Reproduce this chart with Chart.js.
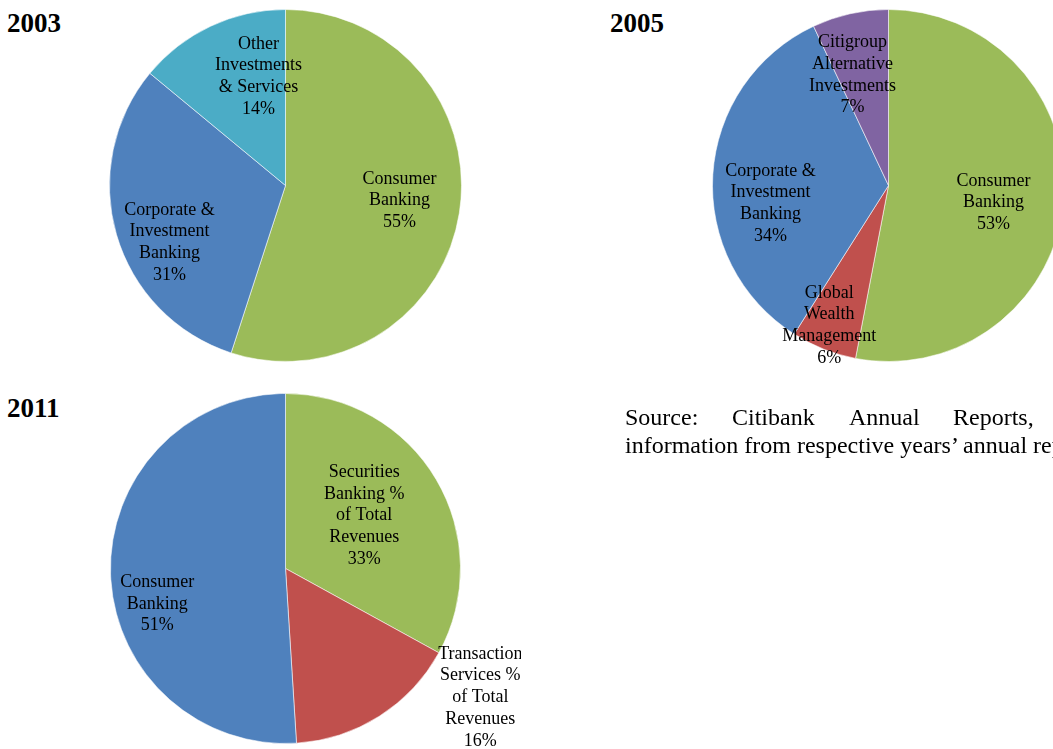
<!DOCTYPE html>
<html>
<head>
<meta charset="utf-8">
<script src="https://cdn.jsdelivr.net/npm/chart.js@4"></script>
<style>
    html, body { margin: 0; padding: 0; background: #fff; overflow: hidden; }
    body { width: 1053px; height: 749px; position: relative; font-family: "Liberation Serif", "Times New Roman", serif; color: #000; }
    canvas { position: absolute; }
    .year { position: absolute; font-size: 27px; font-weight: bold; line-height: 27px; }
    .src { position: absolute; font-size: 24px; line-height: 28px; white-space: nowrap; }
</style>
</head>
<body>
<div class="year" style="left:7px; top:10px;">2003</div>
<div class="year" style="left:610px; top:10px;">2005</div>
<div class="year" style="left:7px; top:395px;">2011</div>

<canvas id="pie2003"></canvas>
<canvas id="pie2005"></canvas>
<canvas id="pie2011"></canvas>

<div class="src" style="left:625px; top:403px;">Source:</div>
<div class="src" style="left:732px; top:403px;">Citibank</div>
<div class="src" style="left:849px; top:403px;">Annual</div>
<div class="src" style="left:953px; top:403px;">Reports,</div>
<div class="src" style="left:625px; top:431px;">information from respective years’ annual reports.</div>

<script>
const GREEN = '#9BBB59';
const BLUE = '#4F81BD';
const TEAL = '#4BACC6';
const RED = '#C0504D';
const PURPLE = '#8064A2';

// 2003 revenue split
const labels2003 = [
    ['Consumer', 'Banking'],
    ['Corporate &', 'Investment', 'Banking'],
    ['Other', 'Investments', '& Services']
];
const values2003 = [55, 31, 14];
const colors2003 = [GREEN, BLUE, TEAL];

// 2005 revenue split
const labels2005 = [
    ['Consumer', 'Banking'],
    ['Global', 'Wealth', 'Management'],
    ['Corporate &', 'Investment', 'Banking'],
    ['Citigroup', 'Alternative', 'Investments']
];
const values2005 = [53, 6, 34, 7];
const colors2005 = [GREEN, RED, BLUE, PURPLE];

// 2011 revenue split
const labels2011 = [
    ['Securities', 'Banking %', 'of Total', 'Revenues'],
    ['Transaction', 'Services %', 'of Total', 'Revenues'],
    ['Consumer', 'Banking']
];
const values2011 = [33, 16, 51];
const colors2011 = [GREEN, RED, BLUE];

// where each label sits: [fraction of radius, degrees turned from the slice middle]
const place2003 = [[0.653, -1.5], [0.734, -10], [0.638, 11.3]];
const place2005 = [[0.605, 3.8], [0.864, 1.3], [0.678, -12.3], [0.66, -5.5]];
const place2011 = [[0.542, -3.3], [1.335, -24.1], [0.76, -13.6]];

// Draws "name / value%" text blocks on each slice
const sliceLabels = {
    id: 'sliceLabels',
    afterDatasetsDraw(chart, args, opts) {
        const ctx = chart.ctx;
        const meta = chart.getDatasetMeta(0);
        const values = chart.data.datasets[0].data;
        ctx.save();
        ctx.font = '18px "Liberation Serif", "Times New Roman", serif';
        ctx.fillStyle = '#000';
        ctx.textAlign = 'center';
        ctx.textBaseline = 'middle';
        meta.data.forEach((arc, i) => {
            const p = arc.getProps(['x', 'y', 'startAngle', 'endAngle', 'outerRadius'], true);
            const dist = opts.place[i][0];
            const shift = opts.place[i][1];
            const angle = (p.startAngle + p.endAngle) / 2 + shift * Math.PI / 180;
            const x = p.x + Math.cos(angle) * dist * p.outerRadius;
            const y = p.y + Math.sin(angle) * dist * p.outerRadius;
            const lines = chart.data.labels[i].concat(values[i] + '%');
            lines.forEach((line, j) => {
                ctx.fillText(line, x, y + (j - (lines.length - 1) / 2) * 21.7);
            });
        });
        ctx.restore();
    }
};

const PAD = 60;

function makePie(id, cx, cy, r, labels, values, colors, place) {
    const canvas = document.getElementById(id);
    const side = 2 * r + 1 + 2 * PAD;
    canvas.width = side;
    canvas.height = side;
    canvas.style.left = (cx - side / 2) + 'px';
    canvas.style.top = (cy - side / 2) + 'px';
    return new Chart(canvas, {
        type: 'pie',
        data: {
            labels: labels,
            datasets: [{
                data: values,
                backgroundColor: colors,
                borderColor: 'rgba(255,255,255,0.55)',
                borderWidth: 1
            }]
        },
        options: {
            responsive: false,
            animation: false,
            layout: { padding: PAD },
            plugins: {
                legend: { display: false },
                tooltip: { enabled: false },
                sliceLabels: { place: place }
            }
        },
        plugins: [sliceLabels]
    });
}

let chart2003 = makePie('pie2003', 285, 185, 176, labels2003, values2003, colors2003, place2003);
let chart2005 = makePie('pie2005', 888, 185, 176, labels2005, values2005, colors2005, place2005);
let chart2011 = makePie('pie2011', 285.5, 568.5, 175, labels2011, values2011, colors2011, place2011);
</script>
</body>
</html>
